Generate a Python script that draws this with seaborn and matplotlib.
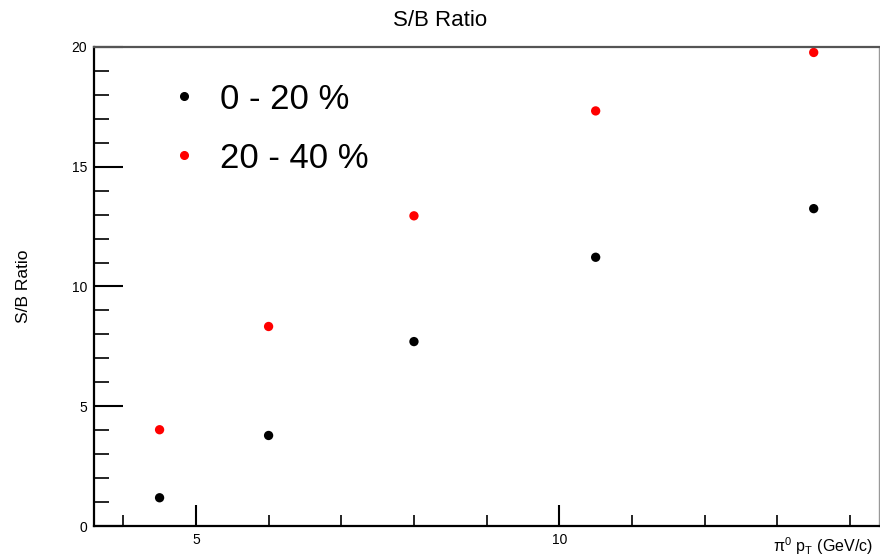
import matplotlib
matplotlib.use("Agg")
import matplotlib.pyplot as plt
from matplotlib.ticker import MultipleLocator
from matplotlib.lines import Line2D
import seaborn as sns
import pandas as pd

pt = [4.5, 6.0, 8.0, 10.5, 13.5]
sb_0_20 = [1.18, 3.78, 7.70, 11.22, 13.25]
sb_20_40 = [4.02, 8.33, 12.95, 17.33, 19.77]
labels = ["0 - 20 %", "20 - 40 %"]
colors = ["black", "red"]

df = pd.DataFrame({
    "pt": pt + pt,
    "sb": sb_0_20 + sb_20_40,
    "cent": [labels[0]] * len(pt) + [labels[1]] * len(pt),
})

sns.set_style("white")
plt.rcParams["font.family"] = ["Liberation Sans", "DejaVu Sans"]
plt.rcParams["mathtext.fontset"] = "custom"
plt.rcParams["mathtext.rm"] = "Liberation Sans"
plt.rcParams["mathtext.it"] = "Liberation Sans"
for k in ["text.color", "axes.labelcolor", "xtick.color", "ytick.color"]:
    plt.rcParams[k] = "black"

fig = plt.figure(figsize=(8.8, 5.59), dpi=100)
ax = fig.add_axes([0.107, 0.059, 0.892, 0.857])

sns.scatterplot(data=df, x="pt", y="sb", hue="cent", palette=colors,
                s=45, edgecolor="none", ax=ax, clip_on=False, legend=False)

ax.set_xlim(3.6, 14.4)
ax.set_ylim(0, 20)
ax.xaxis.set_major_locator(MultipleLocator(5))
ax.xaxis.set_minor_locator(MultipleLocator(1))
ax.yaxis.set_major_locator(MultipleLocator(5))
ax.yaxis.set_minor_locator(MultipleLocator(1))
ax.tick_params(which="both", bottom=True, left=True, top=False, right=False)
ax.tick_params(axis="x", which="major", length=15, width=1.5, direction="in",
               labelsize=10, pad=5)
ax.tick_params(axis="x", which="minor", length=8, width=1.2, direction="in")
ax.tick_params(axis="y", which="major", length=21, width=1.5, direction="in",
               labelsize=10, pad=5)
ax.tick_params(axis="y", which="minor", length=11, width=1.2, direction="in")

for side in ["left", "bottom"]:
    ax.spines[side].set_color("black")
    ax.spines[side].set_linewidth(1.6)
ax.spines["top"].set_color("#555555")
ax.spines["top"].set_linewidth(1.6)
ax.spines["right"].set_color("#999999")
ax.spines["right"].set_linewidth(1.0)

ax.set_xlabel("")
ax.set_ylabel("S/B Ratio", fontsize=12.5)
ax.yaxis.set_label_coords(-0.080, 0.5)
fig.text(0.992, 0.003, r"$\pi^0$ p$_{\rm T}$ (GeV/c)", ha="right", va="bottom", fontsize=11.5)
fig.suptitle("S/B Ratio", fontsize=16, x=0.5, y=0.982, va="top")

handles = [Line2D([], [], marker="o", linestyle="none", color=c, markersize=5.5) for c in colors]
leg = ax.legend(handles, labels, loc="upper left", bbox_to_anchor=(0.052, 0.991),
                frameon=False, fontsize=25, handletextpad=0.55, labelspacing=0.75,
                handlelength=1.0)

fig.savefig("out.png", dpi=100)
